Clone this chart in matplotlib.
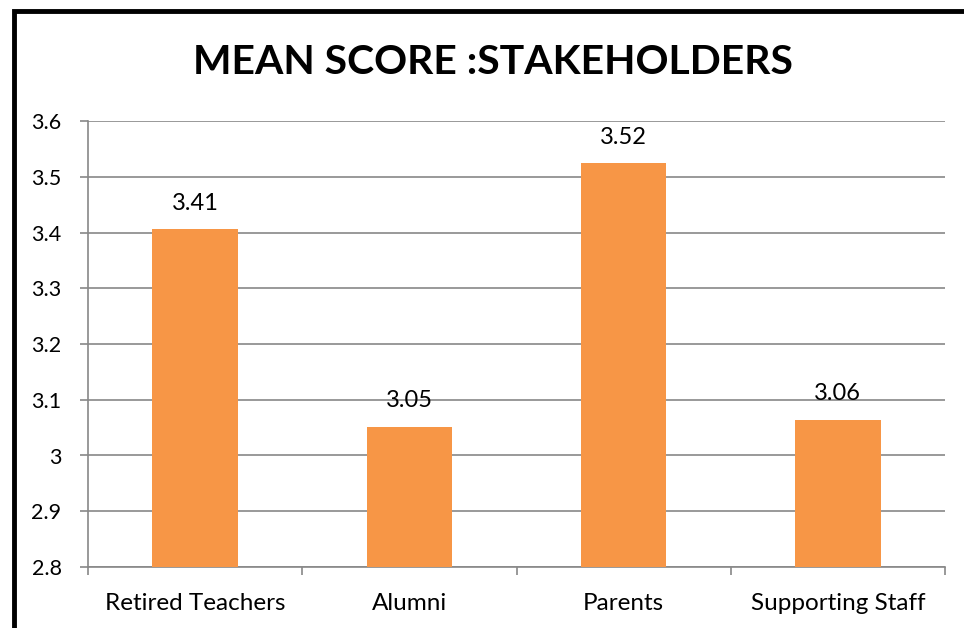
import matplotlib.pyplot as plt
from matplotlib.patches import Rectangle
import numpy as np

# data
kategori = ['Retired Teachers', 'Alumni', 'Parents', 'Supporting Staff']
nilai = [3.406, 3.052, 3.524, 3.064]
yticks = [2.8, 2.9, 3.0, 3.1, 3.2, 3.3, 3.4, 3.5, 3.6]
ylabels = ['2.8', '2.9', '3', '3.1', '3.2', '3.3', '3.4', '3.5', '3.6']

plt.rcParams['font.family'] = ['Lato', 'DejaVu Sans']
abu = '#888888'

fig = plt.figure(figsize=(9.64, 6.28), dpi=100)
ax = fig.add_axes([88/964, 1 - 567/628, (945-88)/964, (567-121)/628])

x = np.arange(len(kategori))
ax.bar(x, nilai, width=0.4, color='#F79646', zorder=3)
for xi, v in zip(x, nilai):
    ax.text(xi, v + 0.028, f'{v:.2f}', ha='center', va='bottom', fontsize=17, color='black')

ax.set_xlim(-0.5, len(kategori) - 0.5)
ax.set_ylim(2.8, 3.6)
ax.set_yticks(yticks)
ax.set_yticklabels(ylabels, fontsize=15.5)
ax.set_xticks(x)
ax.set_xticklabels(kategori, fontsize=17.5)
ax.set_xticks(np.arange(-0.5, len(kategori)), minor=True)
ax.tick_params(axis='x', which='major', length=0, pad=19)
ax.tick_params(axis='x', which='minor', length=6, width=1.2, color=abu)
ax.tick_params(axis='y', length=6, width=1.2, color=abu, pad=13)
ax.grid(axis='y', color=abu, linewidth=1.2, zorder=0)
for s in ['top', 'right']:
    ax.spines[s].set_visible(False)
for s in ['left', 'bottom']:
    ax.spines[s].set_color(abu)
    ax.spines[s].set_linewidth(1.2)

fig.text(493/964, 1 - 62/628, 'MEAN SCORE :STAKEHOLDERS', ha='center', va='center',
         fontsize=29.4, fontweight='bold')

# bingkai hitam (terpotong di kanan & bawah)
fig.patches.append(Rectangle((14/964, -0.1), 1.2, 1.1 - 11/628, transform=fig.transFigure,
                             fill=False, edgecolor='black', linewidth=3.5, clip_on=False))

fig.savefig('out.png', dpi=100)
